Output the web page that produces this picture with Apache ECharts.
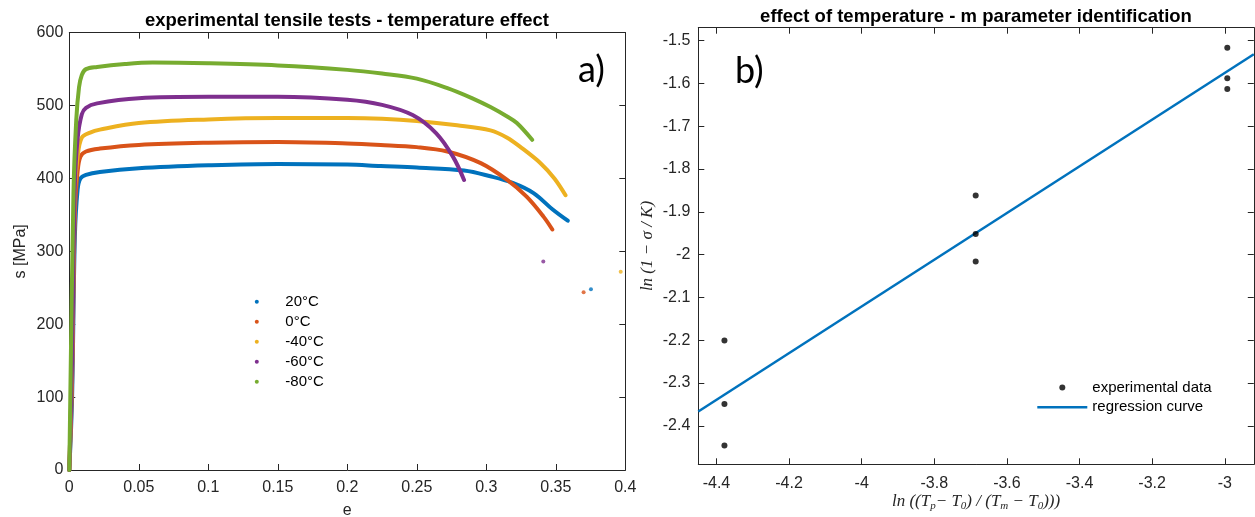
<!DOCTYPE html>
<html><head><meta charset="utf-8">
<script src="https://cdn.jsdelivr.net/npm/echarts@6/dist/echarts.min.js"></script>
<style>html,body{margin:0;padding:0;background:#fff}#c{width:1255px;height:517px}</style>
</head><body><div id="c"></div>
<script>
// ---------- panel a) data : strain e, stress s [MPa] ----------
const tempLabels = ['20°C', '0°C', '-40°C', '-60°C', '-80°C'];
const curve20C = [[0,0],[0.002,100],[0.004,320],[0.006,385],[0.008,400],[0.012,405],[0.022,409],[0.05,414],[0.1,418],[0.15,420],[0.2,419],[0.224,417],[0.25,415],[0.284,411],[0.303,403],[0.319,394],[0.334,380],[0.348,357],[0.3586,342]];
const curve0C = [[0,0],[0.002,120],[0.004,350],[0.006,410],[0.008,430],[0.012,437],[0.022,441],[0.05,446],[0.1,449],[0.15,450],[0.2,448],[0.224,446],[0.25,443],[0.272,437],[0.296,421],[0.315,398],[0.329,375],[0.341,348],[0.3475,330]];
const curveM40C = [[0,0],[0.002,150],[0.004,380],[0.006,430],[0.009,456],[0.015,463],[0.022,467],[0.05,476],[0.1,481],[0.15,483],[0.2,483],[0.225,482],[0.25,479],[0.279,473],[0.303,466],[0.315,456],[0.324,444],[0.339,421],[0.349,400],[0.357,377]];
const curveM60C = [[0,0],[0.002,150],[0.004,390],[0.006,455],[0.009,488],[0.012,497],[0.02,503],[0.05,510],[0.1,512],[0.15,512],[0.2,508],[0.225,501],[0.247,487],[0.264,462],[0.276,430],[0.284,398]];
const curveM80C = [[0,0],[0.003,380],[0.005,480],[0.007,525],[0.009,542],[0.012,550],[0.02,553],[0.04,557],[0.06,559],[0.1,558],[0.15,555],[0.2,549],[0.225,544],[0.25,537],[0.272,524],[0.29,510],[0.303,498],[0.315,485],[0.322,476],[0.333,453]];
const strayPoints = [[0.3753,248],[0.370,244],[0.3967,272],[0.341,286],null];

// ---------- panel b) data ----------
const expData = [[-4.378,-2.201],[-4.378,-2.349],[-4.378,-2.446],[-3.686,-1.862],[-3.686,-1.952],[-3.686,-2.016],[-2.993,-1.517],[-2.993,-1.588],[-2.993,-1.613]];
const regressionCurve = [[-4.45,-2.3665],[-2.92,-1.532]];
const legendB = ['experimental data', 'regression curve'];

// ---------- styles ----------
const colors = ['#0072BD', '#D95319', '#EDB120', '#7E2F8E', '#77AC30'];
const curves = [curve20C, curve0C, curveM40C, curveM60C, curveM80C];
const AX = '#262626';
const SANS = '"Liberation Sans", Arial, sans-serif';
const SERIF = '"Liberation Serif", "Times New Roman", serif';

function boxAxis(extra) {
  return Object.assign({
    type: 'value',
    axisLine: { show: true, onZero: false, lineStyle: { color: AX, width: 1 } },
    axisTick: { show: true, inside: true, length: 6, lineStyle: { color: AX, width: 1 } },
    axisLabel: { show: false },
    splitLine: { show: false }
  }, extra);
}
const lbl = (m, fmt) => ({ show: true, margin: m, color: AX, fontSize: 16, fontFamily: SANS, showMinLabel: true, showMaxLabel: true, formatter: fmt });
const onStep = (step) => (v) => (Math.abs(v / step - Math.round(v / step)) < 1e-6 ? String(+v.toFixed(2)) : '');

const series = [];
curves.forEach((c, i) => {
  series.push({
    type: 'line', name: tempLabels[i], xAxisIndex: 0, yAxisIndex: 0, data: c,
    symbol: 'none', showSymbol: false, smooth: 0.35,
    lineStyle: { width: 4, color: colors[i], cap: 'round', join: 'round' },
    itemStyle: { color: colors[i] }, z: 2 + i
  });
});
strayPoints.forEach((p, i) => {
  if (!p) return;
  series.push({
    type: 'scatter', name: tempLabels[i], xAxisIndex: 0, yAxisIndex: 0, data: [p],
    symbolSize: 4, itemStyle: { color: colors[i] }, z: 8
  });
});
series.push({
  type: 'line', name: legendB[1], xAxisIndex: 2, yAxisIndex: 2, data: regressionCurve,
  symbol: 'none', showSymbol: false, lineStyle: { width: 2.5, color: '#0072BD' }, itemStyle: { color: '#0072BD' }, z: 3
});
series.push({
  type: 'scatter', name: legendB[0], xAxisIndex: 2, yAxisIndex: 2, data: expData,
  symbolSize: 6, itemStyle: { color: '#000' }, z: 4
});

const option = {
  animation: false,
  backgroundColor: '#fff',
  title: [
    { text: 'experimental tensile tests - temperature effect', left: 347, top: 11, textAlign: 'center', padding: 0,
      textStyle: { fontFamily: SANS, fontWeight: 'bold', fontSize: 18.5, color: '#000' } },
    { text: 'effect of temperature - m parameter identification', left: 976, top: 7.5, textAlign: 'center', padding: 0,
      textStyle: { fontFamily: SANS, fontWeight: 'bold', fontSize: 18.5, color: '#000' } }
  ],
  grid: [
    { left: 69.3, top: 32.7, width: 556, height: 437.3, containLabel: false, outerBoundsMode: 'none' },
    { left: 698.3, top: 27.7, width: 555.5, height: 436.6, containLabel: false, outerBoundsMode: 'none' }
  ],
  legend: [
    { data: tempLabels, orient: 'vertical', left: 254.8, top: 291.7, padding: 0, itemGap: 0,
      itemWidth: 47, itemHeight: 4, icon: 'circle', selectedMode: false,
      textStyle: { fontFamily: SANS, fontSize: 15, color: '#000', lineHeight: 20 } },
    { data: [{ name: legendB[0], icon: 'circle' }, { name: legendB[1], icon: 'path://M0,0H40V2H0Z' }],
      orient: 'vertical', left: 1037.3, top: 377.8, padding: 0, itemGap: 0, symbolKeepAspect: true,
      itemWidth: 50, itemHeight: 6, selectedMode: false,
      textStyle: { fontFamily: SANS, fontSize: 15, color: '#000', lineHeight: 19.6 } }
  ],
  xAxis: [
    boxAxis({ gridIndex: 0, position: 'bottom', min: 0, max: 0.4, interval: 0.05, axisLabel: lbl(10),
      name: 'e', nameLocation: 'middle', nameGap: 33, nameMoveOverlap: false,
      nameTextStyle: { fontFamily: SANS, fontSize: 16, color: AX } }),
    boxAxis({ gridIndex: 0, position: 'top', min: 0, max: 0.4, interval: 0.05 }),
    boxAxis({ gridIndex: 1, position: 'bottom', min: -4.45, max: -2.92, splitNumber: 8, minInterval: 0.2, maxInterval: 0.2,
      axisLabel: lbl(11, onStep(0.2)),
      name: '{i|ln ((T}{s|p}{i|− T}{s|0}{i|) / (T}{s|m}{i| − T}{s|0}{i|)))}', nameLocation: 'middle', nameGap: 27, nameMoveOverlap: false,
      nameTextStyle: { rich: {
        i: { fontFamily: SERIF, fontStyle: 'italic', fontSize: 17, color: AX, lineHeight: 20 },
        s: { fontFamily: SERIF, fontStyle: 'italic', fontSize: 11, color: AX, lineHeight: 11, verticalAlign: 'bottom' } } } }),
    boxAxis({ gridIndex: 1, position: 'top', min: -4.45, max: -2.92, splitNumber: 8, minInterval: 0.2, maxInterval: 0.2 })
  ],
  yAxis: [
    boxAxis({ gridIndex: 0, position: 'left', min: 0, max: 600, interval: 100, axisLabel: lbl(6),
      name: 's [MPa]', nameLocation: 'middle', nameGap: 41, nameMoveOverlap: false,
      nameTextStyle: { fontFamily: SANS, fontSize: 16, color: AX } }),
    boxAxis({ gridIndex: 0, position: 'right', min: 0, max: 600, interval: 100 }),
    boxAxis({ gridIndex: 1, position: 'left', min: -2.49, max: -1.47, splitNumber: 10, minInterval: 0.1, maxInterval: 0.1,
      axisLabel: lbl(8, onStep(0.1)),
      name: 'ln (1 − σ / K)', nameLocation: 'middle', nameGap: 42, nameMoveOverlap: false,
      nameTextStyle: { fontFamily: SERIF, fontStyle: 'italic', fontSize: 17, color: AX } }),
    boxAxis({ gridIndex: 1, position: 'right', min: -2.49, max: -1.47, splitNumber: 10, minInterval: 0.1, maxInterval: 0.1 })
  ],
  graphic: [
    { type: 'text', left: 578, top: 52, style: { text: 'a)', font: '36px Lato, "Open Sans", sans-serif', fill: '#000' } },
    { type: 'text', left: 735, top: 53, style: { text: 'b)', font: '36px Lato, "Open Sans", sans-serif', fill: '#000' } }
  ],
  series: series
};
const chart = echarts.init(document.getElementById('c'), null, { renderer: 'canvas' });
chart.setOption(option);
</script></body></html>
